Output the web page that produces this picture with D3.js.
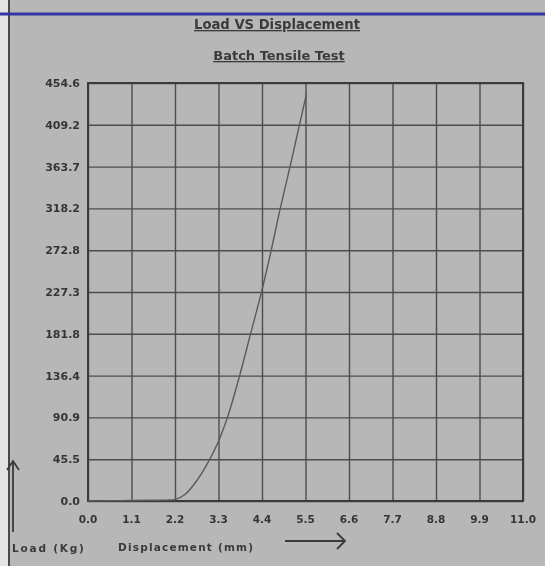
<!DOCTYPE html>
<html>
<head>
<meta charset="utf-8">
<script src="https://cdn.jsdelivr.net/npm/d3@7"></script>
<style>
  html, body { margin: 0; padding: 0; background: #b8b7b7; }
  svg { display: block; }
</style>
</head>
<body>
<svg id="chart" width="545" height="566"></svg>
<script>
// ---- data ----
const titleText = "Load VS Displacement";
const subtitleText = "Batch Tensile Test";
const xAxisLabel = "Displacement (mm)";
const yAxisLabel = "Load (Kg)";
const xTickValues = [0, 1.1, 2.2, 3.3, 4.4, 5.5, 6.6, 7.7, 8.8, 9.9, 11.0];
const xTickLabels = ["0.0", "1.1", "2.2", "3.3", "4.4", "5.5", "6.6", "7.7", "8.8", "9.9", "11.0"];
const yTickValues = [0, 45.46, 90.92, 136.38, 181.84, 227.3, 272.76, 318.22, 363.68, 409.14, 454.6];
const yTickLabels = ["0.0", "45.5", "90.9", "136.4", "181.8", "227.3", "272.8", "318.2", "363.7", "409.2", "454.6"];
const displacement = [0, 0.5, 1.1, 1.6, 2.0, 2.2, 2.45, 2.75, 3.05, 3.3, 3.55, 3.82, 4.1, 4.38, 4.62, 4.85, 5.1, 5.3, 5.52];
const load =         [0, 0.3, 0.6, 0.8, 1.0, 1.5, 7,    22,   43,   65,  94,   134,  180,  226,  270,  316,  362,  400, 442];

// ---- layout ----
const W = 545, H = 566;
const svg = d3.select("#chart");
const defs = svg.append("defs");
defs.append("filter").attr("id", "soft")
  .append("feGaussianBlur").attr("stdDeviation", 0.55);

const root = svg.append("g").attr("filter", "url(#soft)");

// background paper
root.append("rect").attr("x", 0).attr("y", 0).attr("width", W).attr("height", H).attr("fill", "#b8b7b7");
root.append("rect").attr("x", 0).attr("y", 0).attr("width", 8).attr("height", H).attr("fill", "#e4e4e4");
root.append("line").attr("x1", 9).attr("x2", 9).attr("y1", 0).attr("y2", H)
  .attr("stroke", "#4a4a4a").attr("stroke-width", 2);
// blue ruled line at the top
root.append("line").attr("x1", 0).attr("x2", W).attr("y1", 14).attr("y2", 14)
  .attr("stroke", "#3434a8").attr("stroke-width", 3);

const x = d3.scaleLinear().domain([0, 11]).range([88, 523]);
const y = d3.scaleLinear().domain([0, 454.6]).range([501, 83]);

const gridColor = "#4d4d4d";
const plot = root.append("g");

// grid via axes
plot.append("g")
  .attr("transform", `translate(0,${y(0)})`)
  .call(d3.axisBottom(x).tickValues(xTickValues).tickSize(-(y(0) - y(454.6))).tickFormat(""))
  .call(g => g.select(".domain").remove())
  .call(g => g.selectAll(".tick line").attr("stroke", gridColor).attr("stroke-width", 1.4));

plot.append("g")
  .attr("transform", `translate(${x(0)},0)`)
  .call(d3.axisLeft(y).tickValues(yTickValues).tickSize(-(x(11) - x(0))).tickFormat(""))
  .call(g => g.select(".domain").remove())
  .call(g => g.selectAll(".tick line").attr("stroke", gridColor).attr("stroke-width", 1.4));

// frame
plot.append("rect")
  .attr("x", x(0)).attr("y", y(454.6))
  .attr("width", x(11) - x(0)).attr("height", y(0) - y(454.6))
  .attr("fill", "none").attr("stroke", "#3a3a3a").attr("stroke-width", 2);

// tick labels
const labelFont = "'DejaVu Sans', sans-serif";
plot.append("g").selectAll("text").data(xTickValues).join("text")
  .attr("x", d => x(d)).attr("y", 523)
  .attr("text-anchor", "middle")
  .attr("font-family", labelFont).attr("font-size", 10.5).attr("font-weight", "bold")
  .attr("fill", "#363636")
  .text((d, i) => xTickLabels[i]);

plot.append("g").selectAll("text").data(yTickValues).join("text")
  .attr("x", 80).attr("y", d => y(d) + 4)
  .attr("text-anchor", "end")
  .attr("font-family", labelFont).attr("font-size", 11).attr("font-weight", "bold")
  .attr("fill", "#363636")
  .text((d, i) => yTickLabels[i]);

// curve
const pts = displacement.map((d, i) => [d, load[i]]);
plot.append("path")
  .datum(pts)
  .attr("d", d3.line().x(d => x(d[0])).y(d => y(d[1])).curve(d3.curveCatmullRom.alpha(0.5)))
  .attr("fill", "none").attr("stroke", "#5a5a5a").attr("stroke-width", 1.4);

// titles
root.append("text").attr("x", 277).attr("y", 29)
  .attr("text-anchor", "middle").attr("font-family", labelFont)
  .attr("font-size", 13.2).attr("font-weight", "bold").attr("fill", "#3a3a3a")
  .attr("text-decoration", "underline")
  .text(titleText);
root.append("text").attr("x", 279).attr("y", 60)
  .attr("text-anchor", "middle").attr("font-family", labelFont)
  .attr("font-size", 13).attr("font-weight", "bold").attr("fill", "#3a3a3a")
  .attr("text-decoration", "underline")
  .text(subtitleText);

// axis labels
root.append("text").attr("x", 12).attr("y", 552)
  .attr("font-family", labelFont).attr("font-size", 10.5).attr("font-weight", "bold")
  .attr("letter-spacing", 1.8).attr("fill", "#3a3a3a")
  .text(yAxisLabel);
root.append("text").attr("x", 118).attr("y", 551)
  .attr("font-family", labelFont).attr("font-size", 10.5).attr("font-weight", "bold")
  .attr("letter-spacing", 1.2).attr("fill", "#3a3a3a")
  .text(xAxisLabel);

// arrows
root.append("path").attr("d", "M285,541 L345,541 M337,533 L345,541 L337,549")
  .attr("fill", "none").attr("stroke", "#3a3a3a").attr("stroke-width", 1.8);
root.append("path").attr("d", "M13,532 L13,461 M7,470 L13,461 L19,470")
  .attr("fill", "none").attr("stroke", "#3a3a3a").attr("stroke-width", 1.8);
</script>
</body>
</html>
